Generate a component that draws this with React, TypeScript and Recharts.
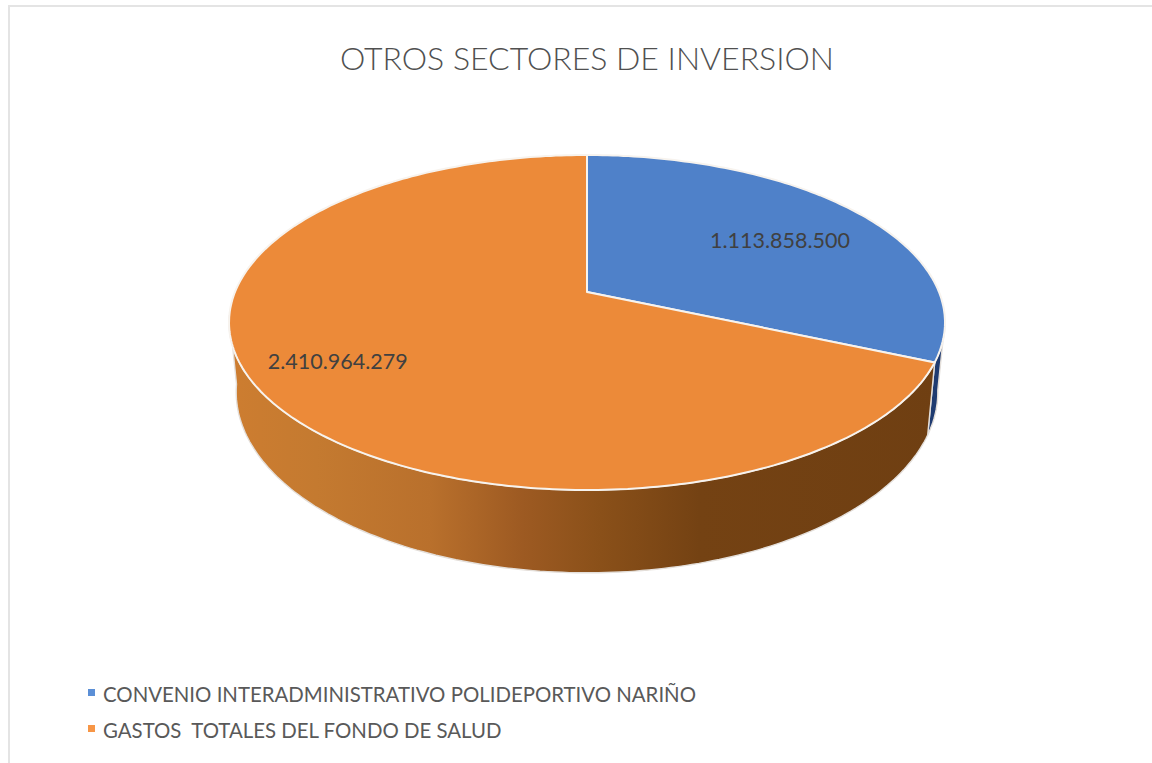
import React from "react";
import { PieChart, Pie, Legend } from "recharts";

const categories = ["CONVENIO INTERADMINISTRATIVO POLIDEPORTIVO NARIÑO", "GASTOS  TOTALES DEL FONDO DE SALUD"];
const values = [1113858500, 2410964279];
const topColors = ["#4f81c9", "#ec8a39"];
const legendColors = ["#5b8fd6", "#f79646"];
const labelRadii = [0.7, 0.78];
const labelShifts = [6, -6];

const rows = categories.map((name, i) => ({ name, value: values[i], fill: topColors[i] }));

// perspective of the tilted disc: circle -> ellipse with the apex off centre
const TILT = 0.46;
const PERSP = 0.182;
const project = (r: number, clock: number, k = 1) => {
  const a = (clock * Math.PI) / 180;
  const u = Math.sin(a) * k;
  const v = -Math.cos(a) * k;
  const d = 1 - PERSP * v;
  return { x: (r * u) / d, y: (r * TILT * v) / d };
};
const top = (cx: number, cy: number, r: number, clock: number) => {
  const p = project(r, clock);
  return [cx + p.x, cy + p.y];
};
const base = (cx: number, cy: number, r: number, clock: number) => {
  const p = project(r, clock);
  return [cx + p.x * 0.98, cy + p.y * 1.08 + 67];
};
const steps = (from: number, to: number) => {
  const n = Math.max(2, Math.ceil(Math.abs(to - from)));
  return Array.from({ length: n + 1 }, (_, i) => from + ((to - from) * i) / n);
};
const toPath = (pts: number[][]) => pts.map((p) => p[0].toFixed(1) + " " + p[1].toFixed(1)).join(" L ");

const Slice = (props: any) => {
  const { cx, cy, outerRadius, startAngle, endAngle, fill } = props;
  const from = 90 - startAngle;
  const to = 90 - endAngle;
  const isBlue = fill === topColors[0];
  // front wall only exists between the two silhouette tangents
  const wallFrom = Math.max(from, 100);
  const wallTo = Math.min(to, 262);
  const wallAngles = steps(wallFrom, wallTo);
  const wallPath =
    "M " +
    toPath(wallAngles.map((a) => top(cx, cy, outerRadius, a))) +
    " L " +
    toPath(wallAngles.slice().reverse().map((a) => base(cx, cy, outerRadius, a))) +
    " Z";
  const topPath = "M " + cx + " " + cy + " L " + toPath(steps(from, to).map((a) => top(cx, cy, outerRadius, a))) + " Z";
  return (
    <g>
      {wallTo > wallFrom && (
        <path d={wallPath} fill={isBlue ? "#1f3b70" : "url(#wallShade)"} stroke="#e4dfda" strokeWidth={1.4} />
      )}
      <path d={topPath} fill={fill} stroke="#f7f3ee" strokeWidth={2} strokeLinejoin="round" />
    </g>
  );
};

const fmt = (n: number) => String(n).replace(/\B(?=(\d{3})+$)/g, ".");

const renderLabel = (props: any) => {
  const { cx, cy, outerRadius, midAngle, value, index } = props;
  const p = project(outerRadius, 90 - midAngle, labelRadii[index]);
  return (
    <text x={cx + p.x} y={cy + p.y + labelShifts[index]} textAnchor="middle" dominantBaseline="central" fontSize={21.5} fill="#404040" fontFamily="Lato">
      {fmt(value)}
    </text>
  );
};

const renderLegend = () => (
  <div style={{ fontFamily: "Lato", fontSize: 20.4, color: "#595959" }}>
    {categories.map((c, i) => (
      <div key={c} style={{ display: "flex", alignItems: "center", height: 36, whiteSpace: "pre" }}>
        <span style={{ width: 7, height: 7, background: legendColors[i], marginRight: 8, marginTop: -4 }} />
        {c}
      </div>
    ))}
  </div>
);

export default function App() {
  return (
    <div style={{ position: "absolute", left: 0, top: 0, width: 1152, height: 763, background: "#fff", overflow: "hidden" }}>
      <div style={{ position: "absolute", left: 8, top: 5, right: 0, bottom: 0, borderTop: "2px solid #e4e4e4", borderLeft: "2px solid #e4e4e4" }} />
      <PieChart width={1152} height={763} margin={{ top: 0, right: 0, bottom: 0, left: 0 }} style={{ position: "absolute", left: 0, top: 0 }}>
        <defs>
          <linearGradient id="wallShade" gradientUnits="userSpaceOnUse" x1={232} x2={940} y1={0} y2={0}>
            <stop offset="0" stopColor="#cd7d30" />
            <stop offset="0.12" stopColor="#c47a30" />
            <stop offset="0.28" stopColor="#b9702c" />
            <stop offset="0.41" stopColor="#9d5a22" />
            <stop offset="0.52" stopColor="#8a5019" />
            <stop offset="0.66" stopColor="#744213" />
            <stop offset="1" stopColor="#6f3f12" />
          </linearGradient>
        </defs>
        <text x={587} y={57} textAnchor="middle" dominantBaseline="central" fontSize={32} fontWeight={300} fill="#505050" fontFamily="Lato">
          OTROS SECTORES DE INVERSION
        </text>
        <Pie
          data={rows}
          dataKey="value"
          nameKey="name"
          cx={587}
          cy={292}
          outerRadius={352}
          startAngle={90}
          endAngle={-270}
          stroke="none"
          shape={Slice}
          label={renderLabel}
          labelLine={false}
          isAnimationActive={false}
        />
        <Legend content={renderLegend} wrapperStyle={{ position: "absolute", left: 88, top: 676, width: 800 }} />
      </PieChart>
    </div>
  );
}
